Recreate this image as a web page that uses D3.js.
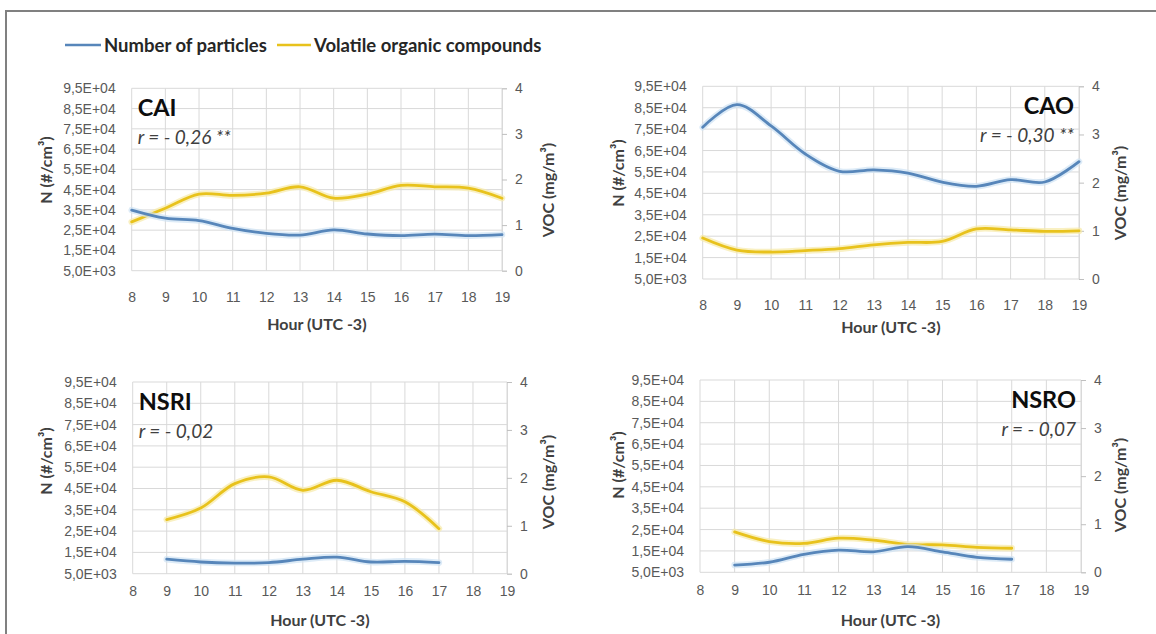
<!DOCTYPE html>
<html>
<head>
<meta charset="utf-8">
<script src="https://cdn.jsdelivr.net/npm/d3@7"></script>
<style>
  body { margin: 0; background: #fff; }
  svg { display: block; font-family: Lato, "Open Sans", "Liberation Sans", sans-serif; }
</style>
</head>
<body>
<svg id="chart" width="1156" height="634"></svg>
<script>
// Hours of the day (UTC -3)
const hours = [8, 9, 10, 11, 12, 13, 14, 15, 16, 17, 18, 19];
const shortHours = [9, 10, 11, 12, 13, 14, 15, 16, 17];

// Axis ticks
const nTicks = [5000, 15000, 25000, 35000, 45000, 55000, 65000, 75000, 85000, 95000];
const vocTicks = [0, 1, 2, 3, 4];

// Particle number concentration (#/cm3) and VOC (mg/m3) per site
const caiN   = [34900, 30900, 29700, 25900, 23400, 22600, 25100, 23100, 22300, 23000, 22300, 22800];
const caiVOC = [1.07, 1.37, 1.68, 1.65, 1.70, 1.84, 1.59, 1.68, 1.87, 1.84, 1.81, 1.59];
const caoN   = [75900, 86400, 76500, 63400, 55300, 56000, 54500, 50200, 48300, 51400, 50300, 59800];
const caoVOC = [0.85, 0.60, 0.56, 0.59, 0.63, 0.71, 0.76, 0.78, 1.04, 1.02, 0.99, 1.00];
const nsriN   = [11800, 10500, 10000, 10200, 11800, 12800, 10500, 10800, 10200];
const nsriVOC = [1.13, 1.37, 1.88, 2.02, 1.74, 1.95, 1.71, 1.50, 0.94];
const nsroN   = [8400, 9700, 13400, 15400, 14600, 17000, 14600, 12000, 11100];
const nsroVOC = [0.84, 0.64, 0.60, 0.71, 0.67, 0.58, 0.57, 0.52, 0.50];

const siteNames = ["CAI", "CAO", "NSRI", "NSRO"];
const rLabels = ["r = - 0,26 **", "r = - 0,30 **", "r = - 0,02", "r = - 0,07"];
const legendLabels = ["Number of particles", "Volatile organic compounds"];
const xTitle = "Hour (UTC -3)";
const nTitle = "N (#/cm³)";
const vocTitle = "VOC (mg/m³)";

const BLUE = "#5786ba";
const GOLD = "#e8c21c";
const GRID = "#d9d9d9";
const TICK_TEXT = "#595959";
const TITLE_TEXT = "#404040";

const svg = d3.select("#chart");

// outer frame
svg.append("line").attr("x1", 5).attr("x2", 1156).attr("y1", 11).attr("y2", 11)
  .attr("stroke", "#808080").attr("stroke-width", 2);
svg.append("line").attr("x1", 6).attr("x2", 6).attr("y1", 10).attr("y2", 634)
  .attr("stroke", "#808080").attr("stroke-width", 2);

// legend
const legend = svg.append("g").attr("font-weight", "bold").attr("font-size", 18.5).attr("fill", "#262626");
[[BLUE, 65, 101, 104, legendLabels[0]], [GOLD, 277, 311, 314, legendLabels[1]]].forEach(([c, x1, x2, tx, label]) => {
  legend.append("line").attr("x1", x1).attr("x2", x2).attr("y1", 45).attr("y2", 45)
    .attr("stroke", c).attr("stroke-width", 2.5);
  legend.append("text").attr("x", tx).attr("y", 51.5).text(label);
});

// scientific tick labels, e.g. 9,5E+04
function sci(v) {
  const e = Math.floor(Math.log10(v));
  const m = v / Math.pow(10, e);
  return m.toFixed(1).replace(".", ",") + "E+" + String(e).padStart(2, "0");
}

const panels = [
  { box: [131.7, 502, 88.3, 270.7], xs: hours, n: caiN, voc: caiVOC, side: "left",
    xl: 297, xt: 324, ly: 170, ry: 190, lx: 46, rx: 548 },
  { box: [702.7, 1079, 86.3, 279], xs: hours, n: caoN, voc: caoVOC, side: "right",
    xl: 305, xt: 327, ly: 173, ry: 193, lx: 618, rx: 1120 },
  { box: [132.7, 507, 382, 573.7], xs: shortHours, n: nsriN, voc: nsriVOC, side: "left",
    xl: 591, xt: 620, ly: 461, ry: 482, lx: 46, rx: 548 },
  { box: [700, 1081, 380, 572.3], xs: shortHours, n: nsroN, voc: nsroVOC, side: "right",
    xl: 590, xt: 620, ly: 465, ry: 485, lx: 618, rx: 1120 }
];

panels.forEach((p, i) => {
  const [L, R, T, B] = p.box;
  const x = d3.scaleLinear().domain([hours[0], hours[hours.length - 1]]).range([L, R]);
  const yN = d3.scaleLinear().domain([nTicks[0], nTicks[nTicks.length - 1]]).range([B, T]);
  const yV = d3.scaleLinear().domain([vocTicks[0], vocTicks[vocTicks.length - 1]]).range([B, T]);
  const g = svg.append("g");

  // gridlines
  g.append("g").selectAll("line").data(hours).join("line")
    .attr("x1", d => x(d)).attr("x2", d => x(d)).attr("y1", T).attr("y2", B)
    .attr("stroke", GRID).attr("stroke-width", 1);
  g.append("g").selectAll("line").data(nTicks).join("line")
    .attr("x1", L).attr("x2", R).attr("y1", d => yN(d)).attr("y2", d => yN(d))
    .attr("stroke", GRID).attr("stroke-width", 1);

  // left axis labels
  const leftAxis = d3.axisLeft(yN).tickValues(nTicks).tickFormat(sci).tickSize(0).tickPadding(16);
  const la = g.append("g").attr("transform", `translate(${L},0)`).call(leftAxis);
  la.select(".domain").remove();
  la.selectAll("text").attr("font-size", 14).attr("fill", TICK_TEXT).attr("font-family", null);

  // right axis with outward ticks
  const rightAxis = d3.axisRight(yV).tickValues(vocTicks).tickFormat(d3.format("d")).tickSize(5).tickPadding(8);
  const ra = g.append("g").attr("transform", `translate(${R},0)`).call(rightAxis);
  ra.select(".domain").attr("stroke", GRID);
  ra.selectAll(".tick line").attr("stroke", "#bfbfbf");
  ra.selectAll("text").attr("font-size", 14).attr("fill", TICK_TEXT).attr("font-family", null);

  // bottom labels
  const bottomAxis = d3.axisBottom(x).tickValues(hours).tickFormat(d3.format("d")).tickSize(0).tickPadding(0);
  const ba = g.append("g").attr("transform", `translate(0,${p.xl})`).call(bottomAxis);
  ba.select(".domain").remove();
  ba.selectAll("text").attr("font-size", 14).attr("fill", TICK_TEXT).attr("font-family", null)
    .attr("y", 0).attr("dy", "0.35em");

  // axis titles
  g.append("text").attr("x", (L + R) / 2).attr("y", p.xt).attr("dy", "0.35em").attr("text-anchor", "middle")
    .attr("font-weight", "bold").attr("font-size", 16).attr("fill", TITLE_TEXT).text(xTitle);
  g.append("text").attr("transform", `translate(${p.lx},${p.ly}) rotate(-90)`).attr("text-anchor", "middle")
    .attr("dy", "0.35em").attr("font-weight", "bold").attr("font-size", 16).attr("fill", TITLE_TEXT).text(nTitle);
  g.append("text").attr("transform", `translate(${p.rx},${p.ry}) rotate(-90)`).attr("text-anchor", "middle")
    .attr("dy", "0.35em").attr("font-weight", "bold").attr("font-size", 16).attr("fill", TITLE_TEXT).text(vocTitle);

  // site name and correlation
  const tx = p.side === "left" ? L + 6 : R - 5;
  const anchor = p.side === "left" ? "start" : "end";
  g.append("text").attr("x", tx).attr("y", T + 28).attr("text-anchor", anchor)
    .attr("font-weight", "bold").attr("font-size", 23.5).attr("fill", "#0d0d0d").text(siteNames[i]);
  g.append("text").attr("x", tx).attr("y", T + 56).attr("text-anchor", anchor)
    .attr("font-style", "italic").attr("font-size", 19).attr("fill", TITLE_TEXT).text(rLabels[i]);

  // series
  const lineN = d3.line().x((d, k) => x(p.xs[k])).y(d => yN(d)).curve(d3.curveCatmullRom.alpha(0.5));
  const lineV = d3.line().x((d, k) => x(p.xs[k])).y(d => yV(d)).curve(d3.curveCatmullRom.alpha(0.5));
  [[p.voc, lineV, GOLD, "#f6e9a8"], [p.n, lineN, BLUE, "#cfe3f4"]].forEach(([vals, gen, col, halo]) => {
    g.append("path").datum(vals).attr("d", gen).attr("fill", "none")
      .attr("stroke", halo).attr("stroke-width", 6.5).attr("stroke-opacity", 0.7).attr("stroke-linecap", "round");
    g.append("path").datum(vals).attr("d", gen).attr("fill", "none")
      .attr("stroke", col).attr("stroke-width", 2.8).attr("stroke-linecap", "round");
  });
});
</script>
</body>
</html>
